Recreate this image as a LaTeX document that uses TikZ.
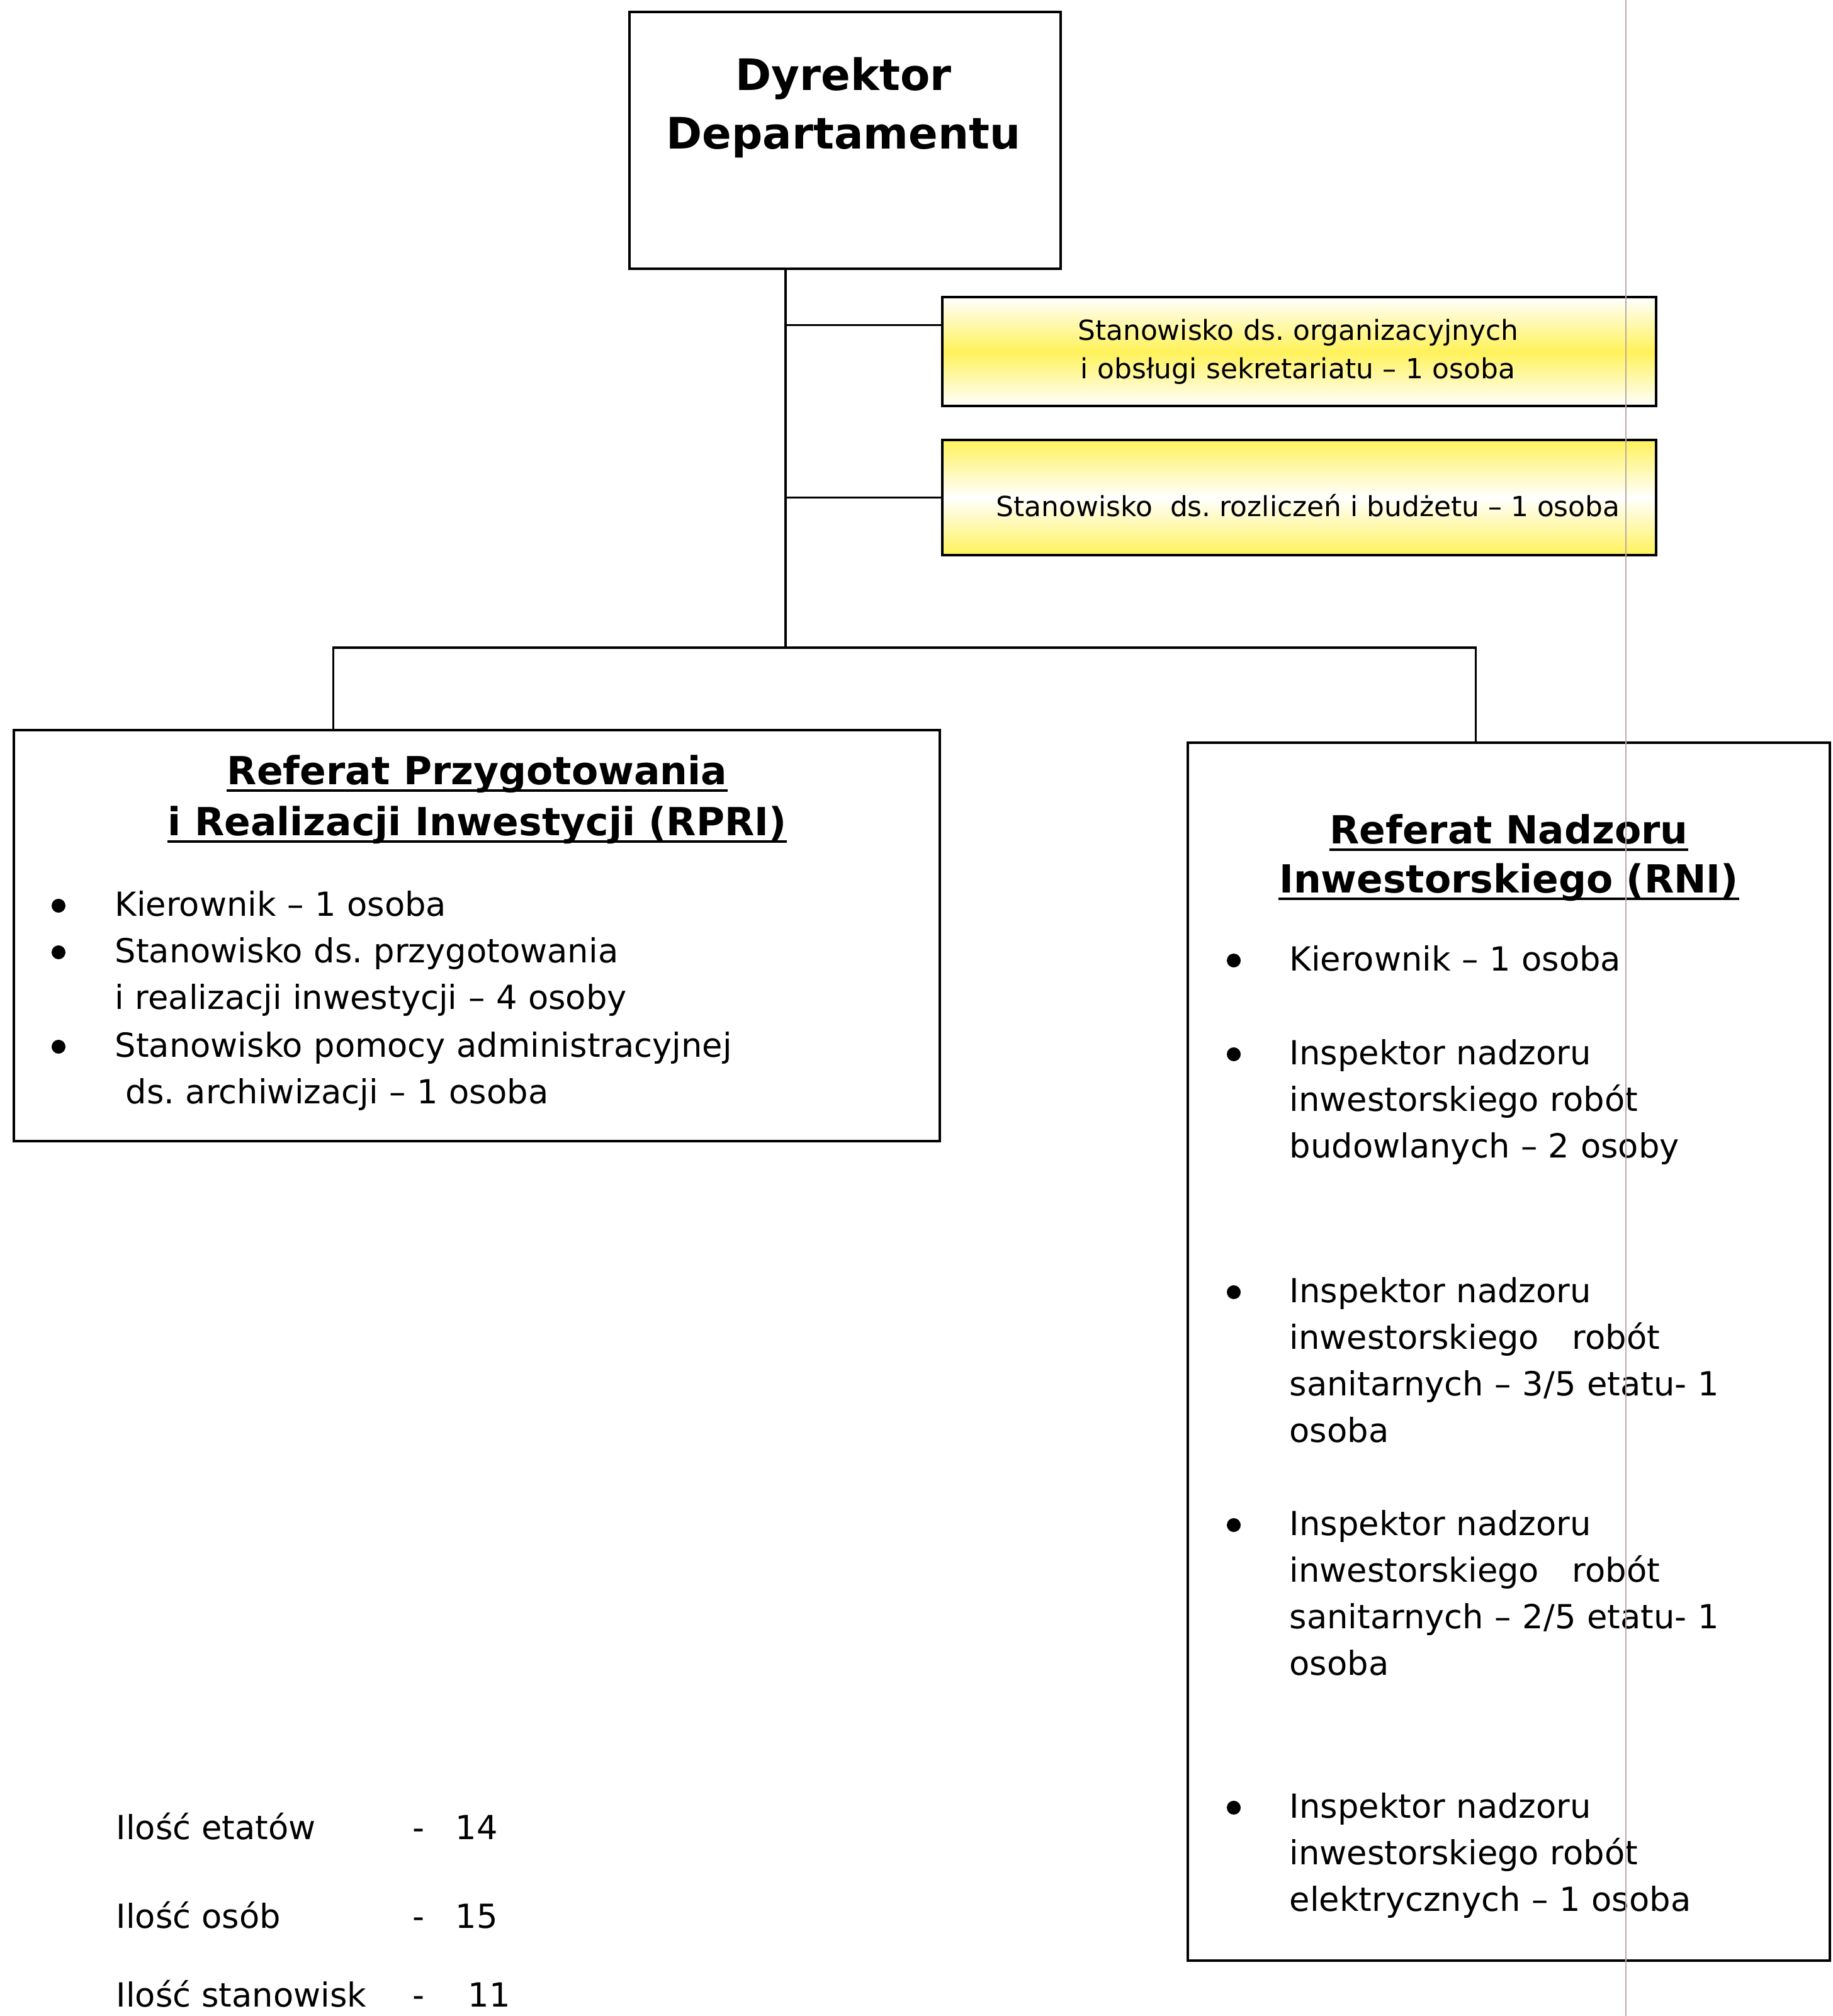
\documentclass[tikz,border=0pt]{standalone}
\usepackage{fontspec}
\setmainfont{DejaVu Sans}
\usetikzlibrary{calc,positioning}
\definecolor{scanyellow}{RGB}{255,242,90}
\definecolor{scangray}{RGB}{190,168,165}
\frenchspacing

\begin{document}
\begin{tikzpicture}[
    box/.style={rectangle,draw,line width=1.2pt,inner sep=0pt,anchor=north west},
    yellowband/.style={box,top color=white,bottom color=white,middle color=scanyellow},
    yellowedge/.style={box,top color=scanyellow,bottom color=scanyellow,middle color=white},
    line/.style={line width=0.9pt},
    uline/.style={line width=1.1pt},
    bullet/.style={circle,fill,inner sep=0pt,minimum size=2.2mm},
    bigtitle/.style={font=\fontsize{19.6}{26.7}\selectfont\bfseries,anchor=base,inner sep=0pt},
    title/.style={font=\fontsize{17.5}{22}\selectfont\bfseries,anchor=base,inner sep=0pt},
    small/.style={font=\fontsize{12.5}{17.6}\selectfont,anchor=base,inner sep=0pt},
    entry/.style={font=\fontsize{15}{21.1}\selectfont,anchor=base west,inner sep=0pt,text width=12cm,align=left},
    summary/.style={font=\fontsize{15}{21.1}\selectfont,anchor=base west,inner sep=0pt}]
    \useasboundingbox (0,0) rectangle (29.12,-32.03);

    % Boxes
    \node (dyrektor) [box,minimum width=6.85cm,minimum height=4.08cm] at (9.98,-0.17) {};
    \node (sekretariat) [yellowband,minimum width=11.34cm,minimum height=1.73cm] at (14.95,-4.70) {};
    \node (budzet) [yellowedge,minimum width=11.34cm,minimum height=1.83cm] at (14.95,-6.97) {};
    \node (rpri) [box,minimum width=14.71cm,minimum height=6.53cm] at (0.20,-11.58) {};
    \node (rni) [box,minimum width=10.20cm,minimum height=19.35cm] at (18.85,-11.78) {};

    % Box texts
    \node (dyrektor_text) [bigtitle,text width=6.5cm,align=center] at (13.40,-1.43) {Dyrektor\\Departamentu};
    \node (sekretariat_text) [small,text width=10cm,align=center] at (20.62,-5.40)
      {Stanowisko ds. organizacyjnych\\i obsługi sekretariatu – 1 osoba};
    \node (budzet_text) [small] at (20.78,-8.20) {Stanowisko\ \ ds. rozliczeń i budżetu – 1 osoba};

    \node (rpri_title1) [title] at (7.58,-12.46) {Referat Przygotowania};
    \node (rpri_title2) [title] at (7.58,-13.27) {i Realizacji Inwestycji (RPRI)};
    \node (rni_title1) [title] at (23.97,-13.40) {Referat Nadzoru};
    \node (rni_title2) [title] at (23.97,-14.18) {Inwestorskiego (RNI)};
    \foreach \t in {rpri_title1,rpri_title2,rni_title1,rni_title2}
      \draw[uline] ([yshift=-1mm]\t.base west) -- ([yshift=-1mm]\t.base east);

    % Left list
    \node (rpri_item1) [entry] at (1.82,-14.55) {Kierownik – 1 osoba};
    \node (rpri_item2) [entry] at (1.82,-15.29) {Stanowisko ds. przygotowania\\i realizacji inwestycji – 4 osoby};
    \node (rpri_item3) [entry] at (1.82,-16.79) {Stanowisko pomocy administracyjnej\\\hspace*{0.17cm}ds. archiwizacji – 1 osoba};
    \node (rpri_dot1) [bullet] at (0.93,-14.39) {};
    \node (rpri_dot2) [bullet] at (0.93,-15.13) {};
    \node (rpri_dot3) [bullet] at (0.93,-16.63) {};

    % Right list
    \node (rni_item1) [entry] at (20.48,-15.42) {Kierownik – 1 osoba};
    \node (rni_item2) [entry] at (20.48,-16.91) {Inspektor nadzoru\\inwestorskiego robót\\budowlanych – 2 osoby};
    \node (rni_item3) [entry] at (20.48,-20.69) {Inspektor nadzoru\\inwestorskiego\ \ \ robót\\sanitarnych – 3/5 etatu- 1\\osoba};
    \node (rni_item4) [entry] at (20.48,-24.39) {Inspektor nadzoru\\inwestorskiego\ \ \ robót\\sanitarnych – 2/5 etatu- 1\\osoba};
    \node (rni_item5) [entry] at (20.48,-28.88) {Inspektor nadzoru\\inwestorskiego robót\\elektrycznych – 1 osoba};
    \node (rni_dot1) [bullet] at (19.60,-15.26) {};
    \node (rni_dot2) [bullet] at (19.60,-16.75) {};
    \node (rni_dot3) [bullet] at (19.60,-20.53) {};
    \node (rni_dot4) [bullet] at (19.60,-24.23) {};
    \node (rni_dot5) [bullet] at (19.60,-28.72) {};

    % Totals
    \node (etaty) [summary] at (1.84,-29.22) {Ilość etatów};
    \node (etaty_value) [summary] at (6.55,-29.22) {-\hspace{0.49cm}14};
    \node (osoby) [summary] at (1.84,-30.63) {Ilość osób};
    \node (osoby_value) [summary] at (6.55,-30.63) {-\hspace{0.49cm}15};
    \node (stanowiska) [summary] at (1.84,-31.88) {Ilość stanowisk};
    \node (stanowiska_value) [summary] at (6.55,-31.88) {-\hspace{0.69cm}11};

    % Connectors
    \coordinate (hub) at (12.48,-10.29);
    \coordinate (sekretariat_branch) at ($(sekretariat.west)+(0,0.42)$);
    \draw[line] (dyrektor.south -| hub) -- (hub);
    \draw[line] (sekretariat_branch -| hub) -- (sekretariat_branch);
    \draw[line] (budzet.west -| hub) -- (budzet.west);
    \draw[line] ($(rpri.north)+(-2.285,0)$) |- (hub) -| ($(rni.north)+(-0.53,0)$);

    % scanner streak
    \draw[scangray,line width=0.6pt] (25.83,0) -- (25.83,-32.03);
  \end{tikzpicture}
\end{document}
